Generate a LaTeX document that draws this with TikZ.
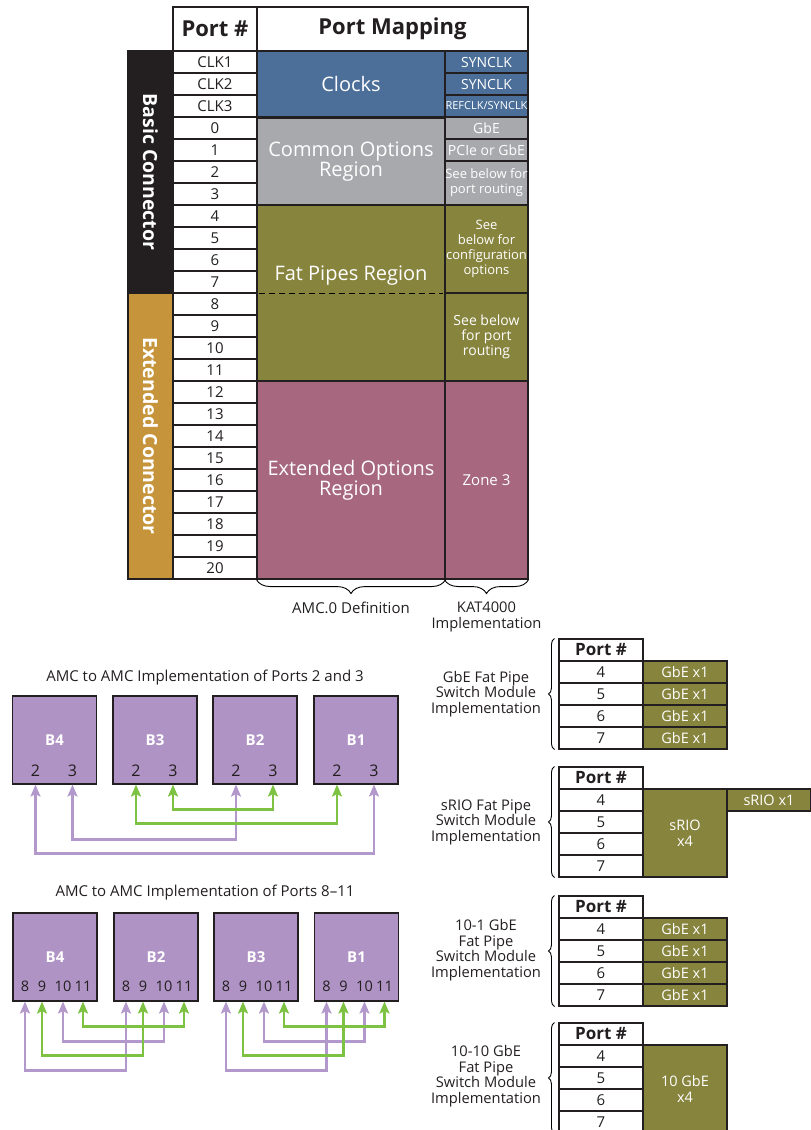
\documentclass[tikz,border=0pt]{standalone}
\usepackage{fontspec}
\setmainfont{Open Sans}
\usetikzlibrary{arrows.meta,decorations.pathreplacing}
\definecolor{inkblack}{HTML}{231F20}
\definecolor{clockblue}{HTML}{4B6F99}
\definecolor{commongray}{HTML}{A7A9AC}
\definecolor{pipeolive}{HTML}{87843E}
\definecolor{extmauve}{HTML}{A6677F}
\definecolor{extgold}{HTML}{C6943A}
\definecolor{amcpurple}{HTML}{AF93C4}
\definecolor{linkgreen}{HTML}{7DC242}
\definecolor{linkpurple}{HTML}{B398CB}
\newcommand{\fsz}[2]{\fontsize{#1}{#2}\selectfont}

\begin{document}
\begin{tikzpicture}[x=1pt, y=-1pt, text=inkblack,
  >={Stealth[length=12pt, width=10pt, inset=2.5pt]},
  cellbase/.style={draw=inkblack, line width=1.1pt, inner sep=0pt, align=center},
  numcell/.style={cellbase, fill=white, minimum width=84pt, minimum height=22pt, font=\fsz{15}{16}},
  headcell/.style={cellbase, fill=white, minimum height=44pt, font=\bfseries\fsz{22}{24}},
  region/.style={cellbase, minimum width=188pt, text=white, font=\fsz{20}{20}},
  impl/.style={cellbase, minimum width=83pt, text=white, font=\fsz{14}{15}},
  sidebar/.style={cellbase, rotate=-90, minimum height=45pt, text=white, font=\bfseries\fsz{19.5}{20}},
  amcbox/.style={draw=inkblack, line width=1.1pt, fill=amcpurple, minimum width=84pt, minimum height=88pt, text=white, font=\bfseries\fsz{15}{18}},
  portnum/.style={inner sep=0pt, font=\fsz{16}{18}},
  link/.style={<->, line width=2.3pt},
  gbecell/.style={cellbase, fill=pipeolive, minimum width=84pt, minimum height=22pt, text=white, font=\fsz{14.5}{16}},
  sidelab/.style={align=center, inner sep=0pt, font=\fsz{14.7}{15.5}},
  title/.style={inner sep=0pt, font=\fsz{15}{16}},
  curly/.style={decorate, decoration={brace, amplitude=#1}, line width=0.9pt},
  curly/.default=6pt
]
  \useasboundingbox (0,0) rectangle (811,1130);
  \clip (0,0) rectangle (811,1130);
  \def\tabtop{51}  % top of first port row
  \def\rowh{22}    % row height

  % header
  \node[headcell, minimum width=84pt] (porthead) at (215,29) {Port \#};
  \node[headcell, minimum width=271pt] (maphead) at (392.5,29) {Port Mapping};

  % port numbers
  \foreach \lab [count=\k from 0] in {CLK1,CLK2,CLK3,0,1,2,3,4,5,6,7,8,9,10,11,12,13,14,15,16,17,18,19,20}
    \node[numcell] (port\k) at (215,{\tabtop+\rowh*\k+\rowh/2}) {\lab};

  % connector bars
  \node[sidebar, fill=inkblack, minimum width=242pt] (basic) at (150.5,172) {Basic Connector};
  \node[sidebar, fill=extgold, minimum width=286pt] (extended) at (150.5,436) {Extended Connector};

  % AMC.0 regions
  \node[region, fill=clockblue, minimum height=66pt] (clocks) at (351,84) {Clocks};
  \node[region, fill=commongray, minimum height=88pt] (common) at (351,162) {Common Options\\Region};
  \node[region, fill=pipeolive, minimum height=176pt] (fatpipe) at (351,293) {};
  \node[text=white, inner sep=0pt, font=\fsz{20}{20}] (fatlab) at (351,276) {Fat Pipes Region};
  \draw[dash pattern=on 6pt off 4pt, line width=0.9pt] ([xshift=3pt]fatpipe.west) -- ([xshift=-3pt]fatpipe.east);
  \node[region, fill=extmauve, minimum height=198pt] (extopt) at (351,480) {Extended Options\\Region};

  % KAT4000 column
  \node[impl, fill=clockblue, minimum height=22pt] (sync1) at (486.5,62) {SYNCLK};
  \node[impl, fill=clockblue, minimum height=22pt] (sync2) at (486.5,84) {SYNCLK};
  \node[impl, fill=clockblue, minimum height=22pt, font=\fsz{11}{12}] (refclk) at (486.5,106) {REFCLK/SYNCLK};
  \node[impl, fill=commongray, minimum height=22pt] (gbe0) at (486.5,128) {GbE};
  \node[impl, fill=commongray, minimum height=22pt] (pcie1) at (486.5,150) {PCIe or GbE};
  \node[impl, fill=commongray, minimum height=44pt, font=\fsz{13}{15}] (route23) at (486.5,183) {See below for\\port routing};
  \node[impl, fill=pipeolive, minimum height=88pt, font=\fsz{13}{15}] (config) at (486.5,249) {See\\below for\\configuration\\options};
  \node[impl, fill=pipeolive, minimum height=88pt, font=\fsz{14}{15}] (route811) at (486.5,337) {See below\\for port\\routing};
  \node[impl, fill=extmauve, minimum height=198pt, font=\fsz{15}{15}] (zone3) at (486.5,480) {Zone 3};

  % braces under the table
  \draw[decorate, decoration={brace, mirror, amplitude=14pt}, line width=0.9pt] (extopt.south west) -- (extopt.south east);
  \draw[decorate, decoration={brace, mirror, amplitude=14pt}, line width=0.9pt] (zone3.south west) -- (zone3.south east);
  \node[title] (amcdef) at (351,608) {AMC.0 Definition};
  \node[sidelab] (katimpl) at (486.5,617) {KAT4000\\Implementation};

  % ports 2 and 3
  \node[title] (t23) at (205,678) {AMC to AMC Implementation of Ports 2 and 3};
  \foreach \nm/\lab/\cx in {a4/B4/54.5, a3/B3/155, a2/B2/255, a1/B1/356} {
    \node[amcbox] (\nm) at (\cx,740) {\lab};
    \node[portnum] (\nm-2) at (\cx-19,771) {2};
    \node[portnum] (\nm-3) at (\cx+18,771) {3};
  }
  \draw[link, linkpurple] (a4-2 |- a4.south) -- ++(0,69) -| (a1-3 |- a1.south);
  \draw[link, linkpurple] (a4-3 |- a4.south) -- ++(0,55) -| (a2-2 |- a2.south);
  \draw[link, linkgreen] (a3-2 |- a3.south) -- ++(0,39) -| (a1-2 |- a1.south);
  \draw[link, linkgreen] (a3-3 |- a3.south) -- ++(0,25) -| (a2-3 |- a2.south);

  % ports 8-11
  \node[title] (t811) at (205,893) {AMC to AMC Implementation of Ports 8--11};
  \foreach \nm/\lab/\cx in {b4/B4/55, b2/B2/156, b3/B3/256, b1/B1/356.5} {
    \node[amcbox] (\nm) at (\cx,957) {\lab};
    \foreach \p/\dx in {8/-30, 9/-13, 10/8, 11/28}
      \node[portnum, font=\fsz{14.5}{18}] (\nm-\p) at (\cx+\dx,986) {\p};
  }
  \foreach \l/\r in {b4/b2, b3/b1} {
    \draw[link, linkpurple] (\l-8 |- \l.south) -- ++(0,69) -| (\r-8 |- \r.south);
    \draw[link, linkpurple] (\l-10 |- \l.south) -- ++(0,40) -| (\r-10 |- \r.south);
    \draw[link, linkgreen] (\l-9 |- \l.south) -- ++(0,54) -| (\r-9 |- \r.south);
    \draw[link, linkgreen] (\l-11 |- \l.south) -- ++(0,25) -| (\r-11 |- \r.south);
  }

  % GbE fat pipe
  \begin{scope}[shift={(0,639)}]
    \node[numcell, font=\bfseries\fsz{17}{18}] (ga-h) at (601,11) {Port \#};
    \foreach \p [count=\k] in {4,5,6,7} {
      \node[numcell] (ga-\p) at (601,{11+22*\k}) {\p};
      \node[gbecell] (ga-g\p) at (685,{11+22*\k}) {GbE x1};
    }
    \draw[curly] (ga-7.south west) ++(-4,0) -- ([xshift=-4pt]ga-h.north west);
    \node[sidelab] (ga-lab) at (486,55) {GbE Fat Pipe\\Switch Module\\Implementation};
  \end{scope}

  % sRIO fat pipe
  \begin{scope}[shift={(0,767)}]
    \node[numcell, font=\bfseries\fsz{17}{18}] (sr-h) at (601,11) {Port \#};
    \foreach \p [count=\k] in {4,5,6,7}
      \node[numcell] (sr-\p) at (601,{11+22*\k}) {\p};
    \node[gbecell, minimum height=88pt] (sr-x4) at (685,66) {sRIO\\x4};
    \node[gbecell] (sr-x1) at (769,33) {sRIO x1};
    \draw[curly] (sr-7.south west) ++(-4,0) -- ([xshift=-4pt]sr-h.north west);
    \node[sidelab] (sr-lab) at (486,55) {sRIO Fat Pipe\\Switch Module\\Implementation};
  \end{scope}

  % 10-1 GbE fat pipe
  \begin{scope}[shift={(0,896)}]
    \node[numcell, font=\bfseries\fsz{17}{18}] (ta-h) at (601,11) {Port \#};
    \foreach \p [count=\k] in {4,5,6,7} {
      \node[numcell] (ta-\p) at (601,{11+22*\k}) {\p};
      \node[gbecell] (ta-g\p) at (685,{11+22*\k}) {GbE x1};
    }
    \draw[curly] (ta-7.south west) ++(-4,0) -- ([xshift=-4pt]ta-h.north west);
    \node[sidelab] (ta-lab) at (486,54) {10-1 GbE\\Fat Pipe\\Switch Module\\Implementation};
  \end{scope}

  % 10-10 GbE fat pipe
  \begin{scope}[shift={(0,1023)}]
    \node[numcell, font=\bfseries\fsz{17}{18}] (tt-h) at (601,11) {Port \#};
    \foreach \p [count=\k] in {4,5,6,7}
      \node[numcell] (tt-\p) at (601,{11+22*\k}) {\p};
    \node[gbecell, minimum height=88pt] (tt-x4) at (685,66) {10 GbE\\x4};
    \draw[curly] (tt-7.south west) ++(-4,0) -- ([xshift=-4pt]tt-h.north west);
    \node[sidelab] (tt-lab) at (486,53) {10-10 GbE\\Fat Pipe\\Switch Module\\Implementation};
  \end{scope}
\end{tikzpicture}
\end{document}
